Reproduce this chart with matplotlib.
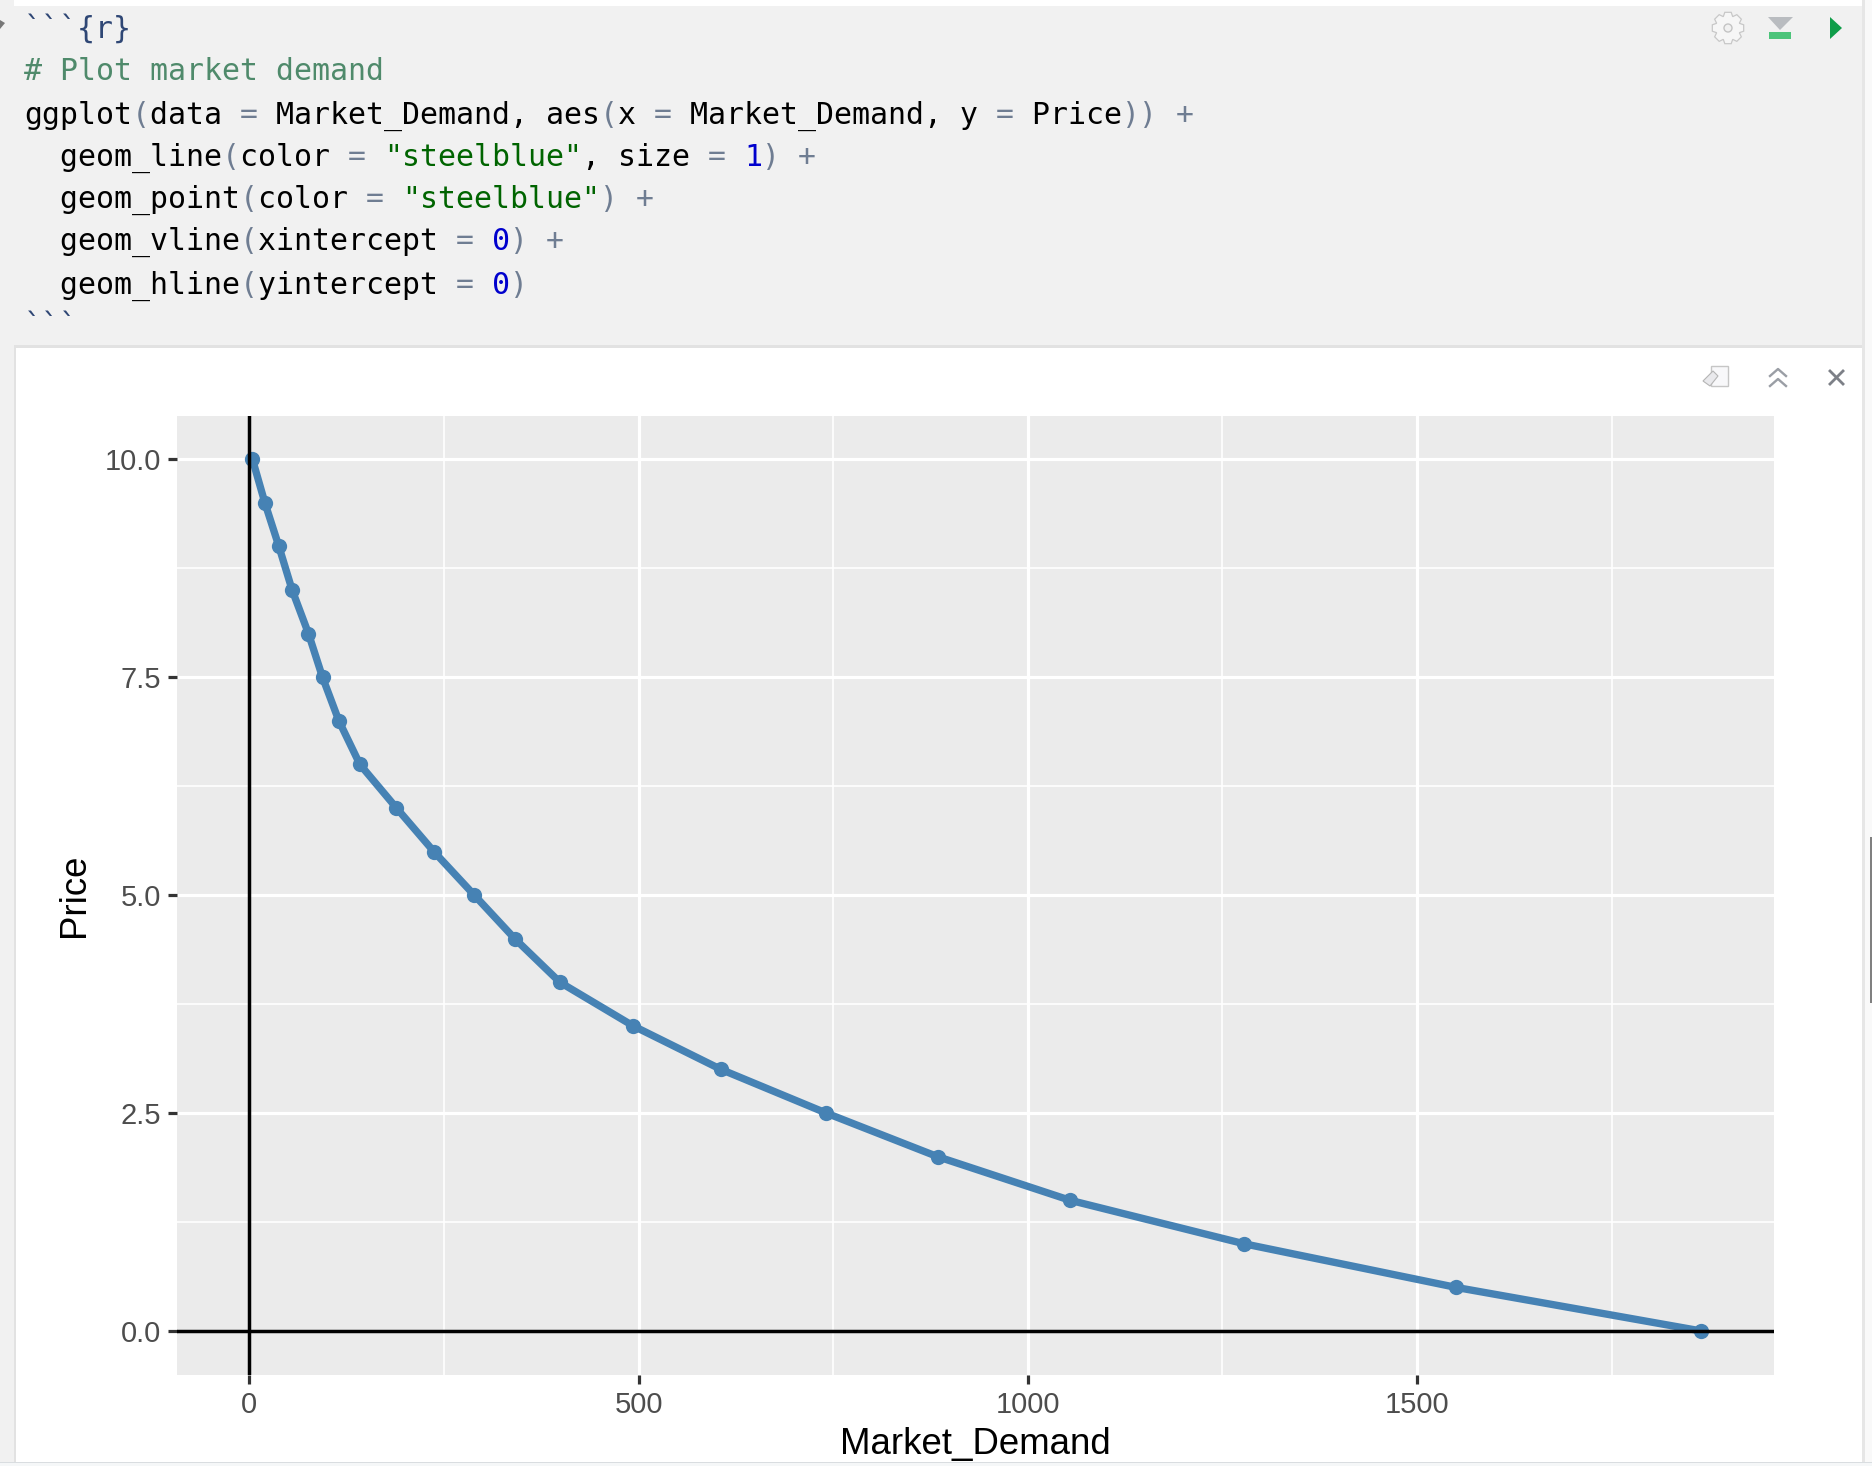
"""Market demand chart, as shown in an RStudio notebook chunk."""
import matplotlib
matplotlib.use("Agg")
import matplotlib.pyplot as plt
import numpy as np
from matplotlib.patches import Rectangle, Polygon, Circle

W, H = 1872, 1466

price = [10.0, 9.5, 9.0, 8.5, 8.0, 7.5, 7.0, 6.5, 6.0, 5.5, 5.0,
         4.5, 4.0, 3.5, 3.0, 2.5, 2.0, 1.5, 1.0, 0.5, 0.0]
market_demand = [4, 20, 38, 55, 76, 94, 115, 142, 189, 237, 289,
                 341, 399, 493, 606, 741, 884, 1054, 1278, 1550, 1865]

x_major = [0, 500, 1000, 1500]
x_minor = [250, 750, 1250, 1750]
y_major = [0, 2.5, 5, 7.5, 10]
y_minor = [1.25, 3.75, 6.25, 8.75]
y_labels = ["0.0", "2.5", "5.0", "7.5", "10.0"]

C_CODE = "#000000"
C_OP = "#6f7d92"
C_STR = "#006400"
C_NUM = "#0000cd"
C_COMMENT = "#4f8a6b"
C_FENCE = "#2f4775"

# each line is a list of (text, colour) tokens
code_lines = [
    [("```{r}", C_FENCE)],
    [("# Plot market demand", C_COMMENT)],
    [("ggplot", C_CODE), ("(", C_OP), ("data ", C_CODE), ("=", C_OP),
     (" Market_Demand, aes", C_CODE), ("(", C_OP), ("x ", C_CODE), ("=", C_OP),
     (" Market_Demand, y ", C_CODE), ("=", C_OP), (" Price", C_CODE),
     ("))", C_OP), (" ", C_CODE), ("+", C_OP)],
    [("  geom_line", C_CODE), ("(", C_OP), ("color ", C_CODE), ("=", C_OP),
     (" ", C_CODE), ('"steelblue"', C_STR), (", size ", C_CODE), ("=", C_OP),
     (" ", C_CODE), ("1", C_NUM), (")", C_OP), (" ", C_CODE), ("+", C_OP)],
    [("  geom_point", C_CODE), ("(", C_OP), ("color ", C_CODE), ("=", C_OP),
     (" ", C_CODE), ('"steelblue"', C_STR), (")", C_OP), (" ", C_CODE), ("+", C_OP)],
    [("  geom_vline", C_CODE), ("(", C_OP), ("xintercept ", C_CODE), ("=", C_OP),
     (" ", C_CODE), ("0", C_NUM), (")", C_OP), (" ", C_CODE), ("+", C_OP)],
    [("  geom_hline", C_CODE), ("(", C_OP), ("yintercept ", C_CODE), ("=", C_OP),
     (" ", C_CODE), ("0", C_NUM), (")", C_OP)],
    [("```", C_FENCE)],
]
code_y = [26, 68, 112, 154, 196, 238, 282, 324]


def gear(cx, cy, r_in, r_out, teeth=8):
    pts = []
    for i in range(teeth):
        a = 2 * np.pi * i / teeth
        step = 2 * np.pi / teeth
        for da, r in [(-0.30, r_in), (-0.16, r_out), (0.16, r_out), (0.30, r_in)]:
            pts.append((cx + r * np.cos(a + da * step * 1.6),
                        cy + r * np.sin(a + da * step * 1.6)))
    return pts


def draw_chrome(bg):
    """Notebook frame, code text and toolbar icons, in pixel coordinates."""
    bg.set_xlim(0, W)
    bg.set_ylim(H, 0)
    bg.axis("off")

    def rect(x0, y0, x1, y1, color):
        bg.add_patch(Rectangle((x0, y0), x1 - x0, y1 - y0, fc=color, ec="none"))

    rect(0, 0, W, H, "#f1f1f1")
    rect(14, 0, 1862, 6, "#ffffff")
    rect(1862, 0, W, H, "#f9f9f9")
    rect(1862, 0, 1865, H, "#e6e6e6")
    rect(14, 345, 1862, 1462, "#e2e2e2")
    rect(16, 348, 1862, 1462, "#ffffff")
    rect(0, 1462, W, H, "#d9dde0")
    rect(0, 1463, W, H, "#f5f7f8")
    rect(1870, 837, W, 1003, "#808080")
    bg.add_patch(Polygon([(0, 20), (5, 23), (0, 29)], fc="#777777", ec="none"))

    for tokens, y in zip(code_lines, code_y):
        col = 0
        for text, color in tokens:
            bg.text(24 + col * 18.0, y, text, family="DejaVu Sans Mono", fontsize=21.5,
                    color=color, ha="left", va="center_baseline")
            col += len(text)

    # gear
    bg.add_patch(Polygon(gear(1728, 28, 12.5, 16), fc="#f6f6f6", ec="#c8c8c8", lw=0.9))
    bg.add_patch(Circle((1728, 28), 4, fc="#f1f1f1", ec="#c4c4c4", lw=1))
    # run-above / run icons
    bg.add_patch(Polygon([(1768, 17), (1793, 17), (1780, 30)], fc="#b9bcc0", ec="none"))
    rect(1769, 32, 1791, 39, "#4cc47a")
    bg.add_patch(Polygon([(1830, 17), (1842, 28), (1830, 39)], fc="#0f9d49", ec="none"))
    # output toolbar
    bg.add_patch(Rectangle((1711, 366), 17, 20, fc="#f8f8fa", ec="#c6c6c6", lw=1))
    bg.add_patch(Polygon([(1703, 381), (1713, 371), (1718, 376), (1710, 386)],
                         fc="#e9e9ec", ec="#b5b5b5", lw=0.8))
    for dy in (0, 10):
        bg.plot([1770, 1778, 1786], [376 + dy, 369 + dy, 376 + dy], color="#9a9ea5", lw=1.7)
    bg.plot([1830, 1843], [371, 384], color="#7d8087", lw=2)
    bg.plot([1843, 1830], [371, 384], color="#7d8087", lw=2)


def render():
    fig = plt.figure(figsize=(W / 100, H / 100), dpi=100)
    bg = fig.add_axes([0, 0, 1, 1])
    draw_chrome(bg)

    left, right, top, bottom = 177, 1773.7, 415.7, 1375
    ax = fig.add_axes([left / W, 1 - bottom / H, (right - left) / W, (bottom - top) / H])
    ax.set_facecolor("#ebebeb")
    ax.set_xlim(-92.9, 1958)
    ax.set_ylim(-0.505, 10.5)
    for s in ax.spines.values():
        s.set_visible(False)

    ax.set_xticks(x_major)
    ax.set_yticks(y_major)
    ax.set_yticklabels(y_labels)
    ax.set_xticks(x_minor, minor=True)
    ax.set_yticks(y_minor, minor=True)
    ax.grid(which="major", color="white", lw=2.3, zorder=1)
    ax.grid(which="minor", color="white", lw=1.2, zorder=1)
    ax.set_axisbelow(True)
    ax.tick_params(which="minor", length=0)
    ax.tick_params(which="major", length=6.3, width=2.3, color="#333333", labelcolor="#4d4d4d",
                   labelsize=21, pad=5)
    for lab in ax.get_xticklabels() + ax.get_yticklabels():
        lab.set_family("Liberation Sans")

    ax.plot(market_demand, price, color="steelblue", lw=5.3, zorder=3, solid_joinstyle="round")
    ax.plot(market_demand, price, "o", color="steelblue", ms=11, mew=0, zorder=4)
    ax.axvline(0, color="black", lw=2.5, zorder=5)
    ax.axhline(0, color="black", lw=2.5, zorder=5)

    ax.set_xlabel("Market_Demand", family="Liberation Sans", fontsize=26.4, labelpad=6)
    ax.set_ylabel("Price", family="Liberation Sans", fontsize=26.4, labelpad=9)

    fig.savefig("out.png", dpi=100)
    plt.close(fig)


if __name__ == "__main__":
    render()
